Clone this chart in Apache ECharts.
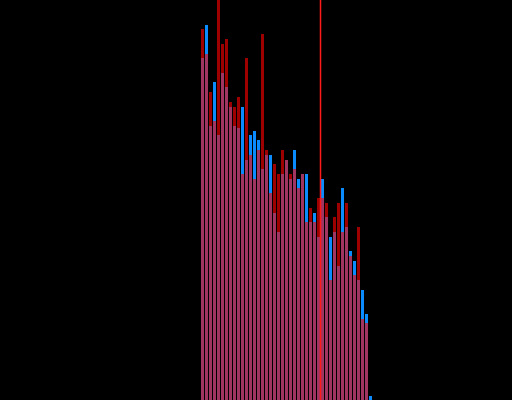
<!DOCTYPE html>
<html>
<head>
<meta charset="utf-8">
<script src="https://cdn.jsdelivr.net/npm/echarts@6/dist/echarts.min.js"></script>
<style>html,body{margin:0;padding:0;background:#000;}#c{width:512px;height:400px;}</style>
</head>
<body>
<div id="c"></div>
<script>
var categories = ['1','2','3','4','5','6','7','8','9','10','11','12','13','14','15','16','17','18','19','20','21','22','23','24','25','26','27','28','29','30','31','32','33','34','35','36','37','38','39','40','41','42','43'];
var blueValues = [342,375,274,318,265,327,313,293,274,272,293,240,265,269,260,231,245,245,187,168,226,240,221,250,221,226,226,178,187,163,221,183,163,168,134,212,173,149,139,120,110,86,4];
var redValues  = [371,346,308,279,410,356,361,298,293,303,226,342,245,221,250,366,250,207,236,226,250,240,226,231,212,226,178,192,178,202,202,197,120,183,197,168,197,144,125,173,81,77,0];
var markerX = [29.5];
var yRange = [0, 400];

var chart = echarts.init(document.getElementById('c'), null, {renderer: 'canvas'});
chart.setOption({
  backgroundColor: '#000',
  animation: false,
  grid: {left: 200.5, width: 172, top: 0, bottom: 0},
  xAxis: [
    {type: 'category', data: categories, show: false},
    {type: 'value', min: -0.5, max: categories.length - 0.5, show: false}
  ],
  yAxis: {type: 'value', min: yRange[0], max: yRange[1], show: false},
  series: [
    {type: 'bar', data: blueValues, barWidth: 3, barGap: '-100%', itemStyle: {color: '#0a8cff'}, clip: true},
    {type: 'bar', data: redValues, barWidth: 3, barGap: '-100%', itemStyle: {color: '#ff0000', opacity: 0.62}, clip: true},
    {type: 'line', xAxisIndex: 1, symbol: 'none',
     data: [[markerX[0], yRange[0]], [markerX[0], yRange[1]]],
     lineStyle: {color: '#ff1a1a', width: 1.5}, z: 5}
  ]
});
</script>
</body>
</html>
